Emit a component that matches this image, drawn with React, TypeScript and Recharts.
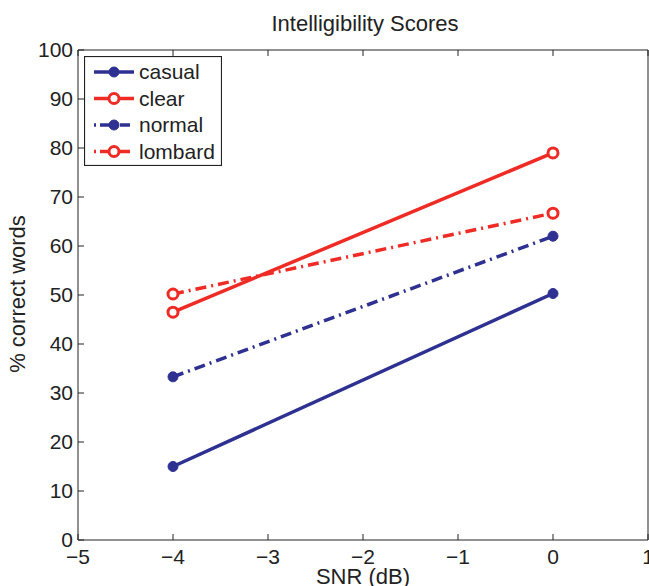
import { Line, LineChart, XAxis, YAxis } from 'recharts'

const snr = [-4, 0]
const casual = [15, 50.3]
const clear = [46.5, 79]
const normal = [33.3, 62]
const lombard = [50.2, 66.7]

const xTicks = [-5, -4, -3, -2, -1, 0, 1]
const yTicks = [0, 10, 20, 30, 40, 50, 60, 70, 80, 90, 100]

const BLUE = '#2e3192'
const RED = '#ee2b24'
const DASHDOT = '11 5 2 5'
const FONT = '"Liberation Sans", Arial, sans-serif'

const data = snr.map((x, i) => ({
    snr: x,
    casual: casual[i],
    clear: clear[i],
    normal: normal[i],
    lombard: lombard[i],
}))

const series = [
    { key: 'casual', color: BLUE, dash: undefined, hollow: false },
    { key: 'clear', color: RED, dash: undefined, hollow: true },
    { key: 'normal', color: BLUE, dash: DASHDOT, hollow: false },
    { key: 'lombard', color: RED, dash: DASHDOT, hollow: true },
]

const minus = (v: number) => String(v).replace('-', '\u2212')

const LegendBox = () => (
    <svg width={138} height={110} style={{ display: 'block' }}>
        <rect x={0.5} y={0.5} width={137} height={109} fill="#fff" stroke="#222" strokeWidth={1.2} />
        {series.map((s, i) => {
            const y = 16 + i * 26.5
            return (
                <g key={s.key}>
                    <line x1={10} x2={50} y1={y} y2={y} stroke={s.color} strokeWidth={3.5} strokeDasharray={s.dash ? '2 4 10 4' : undefined} />
                    <circle cx={30} cy={y} r={5} fill={s.hollow ? '#fff' : s.color} stroke={s.color} strokeWidth={s.hollow ? 3 : 1} />
                    <text x={55} y={y + 7} fontSize={21} fontFamily={FONT} fill="#222">{s.key}</text>
                </g>
            )
        })}
    </svg>
)

const App = () => {
    return (
        <div style={{ position: 'absolute', left: 0, top: 0, width: 649, height: 586, background: '#fff', overflow: 'hidden' }}>
            <LineChart
                width={649}
                height={586}
                data={data}
                margin={{ top: 49, right: 0, bottom: 0, left: 0 }}
                style={{ position: 'absolute', left: 0, top: 0 }}
            >
                <XAxis
                    dataKey="snr"
                    type="number"
                    domain={[-5, 1]}
                    ticks={xTicks}
                    tickFormatter={minus}
                    height={46}
                    tickSize={-6}
                    tickMargin={15}
                    stroke="#222"
                    tick={{ fill: '#222', fontSize: 21, fontFamily: FONT }}
                    interval={0}
                />
                <XAxis
                    xAxisId="top"
                    orientation="top"
                    dataKey="snr"
                    type="number"
                    domain={[-5, 1]}
                    ticks={xTicks}
                    height={1}
                    tickSize={-6}
                    tickFormatter={() => ''}
                    stroke="#222"
                />
                <YAxis
                    type="number"
                    domain={[0, 100]}
                    ticks={yTicks}
                    width={78}
                    tickSize={-6}
                    tickMargin={11}
                    stroke="#222"
                    tick={{ fill: '#222', fontSize: 21, fontFamily: FONT }}
                    interval={0}
                />
                <YAxis
                    yAxisId="right"
                    orientation="right"
                    type="number"
                    domain={[0, 100]}
                    ticks={yTicks}
                    width={1}
                    tickSize={-6}
                    tickFormatter={() => ''}
                    stroke="#222"
                />
                {series.map((s) => (
                    <Line
                        key={s.key}
                        dataKey={s.key}
                        stroke={s.color}
                        strokeWidth={3.5}
                        strokeDasharray={s.dash}
                        dot={{ r: 5, fill: s.hollow ? '#fff' : s.color, stroke: s.color, strokeWidth: s.hollow ? 3 : 1, strokeDasharray: '' }}
                        isAnimationActive={false}
                    />
                ))}
            </LineChart>
            <div style={{ position: 'absolute', left: 84, top: 56 }}>
                <LegendBox />
            </div>
            <div style={{ position: 'absolute', top: 11, left: 0, width: 730, textAlign: 'center', fontFamily: FONT, fontSize: 22, color: '#222' }}>
                Intelligibility Scores
            </div>
            <div style={{ position: 'absolute', top: 564, left: 0, width: 726, textAlign: 'center', fontFamily: FONT, fontSize: 22, color: '#222' }}>
                SNR (dB)
            </div>
            <div style={{ position: 'absolute', left: 18, top: 294, transform: 'translate(-50%, -50%) rotate(-90deg)', whiteSpace: 'nowrap', fontFamily: FONT, fontSize: 22, color: '#222' }}>
                % correct words
            </div>
        </div>
    )
}

export default App
